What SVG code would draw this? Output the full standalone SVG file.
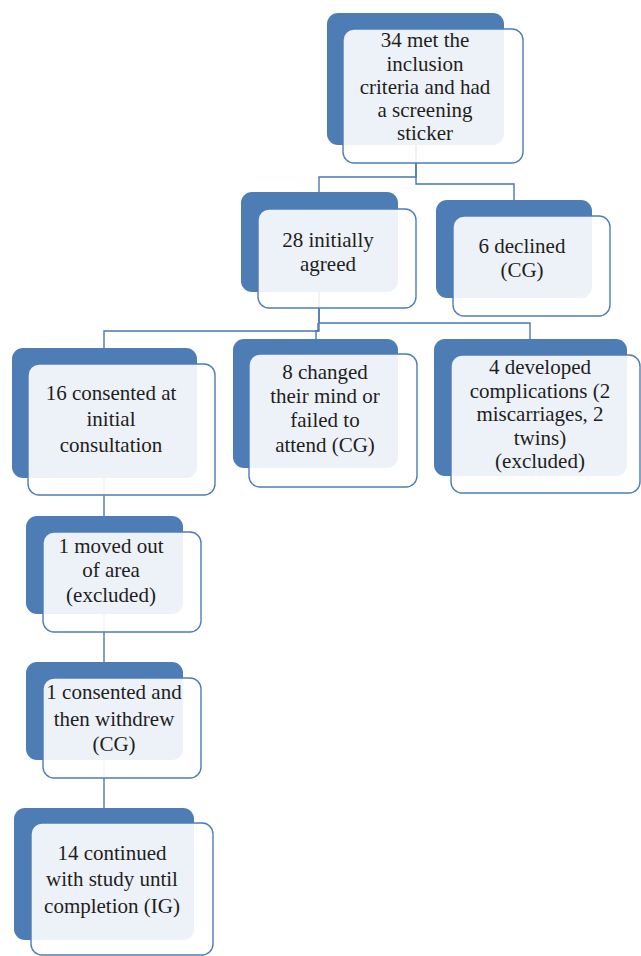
<svg xmlns="http://www.w3.org/2000/svg" width="641" height="956" viewBox="0 0 641 956">
<style>
.bg{fill:#fff}
.back{fill:#4E7DB6}
.front{fill:#fff;fill-opacity:0.9;stroke:#4F7DB5;stroke-width:1.4}
.conn{fill:none;stroke:#4A78B0;stroke-width:1.4}
.t{font-size:21px;fill:#1e1e1e;text-anchor:middle}
</style>
<rect class="bg" x="0" y="0" width="641" height="956"/>
<g id="connectors">
<path class="conn" d="M416,145 V177 H319 V192"/>
<path class="conn" d="M416,145 V184 H514 V200"/>
<path class="conn" d="M319,292 V331 H104 V348"/>
<path class="conn" d="M319,292 V323 H530 V339"/>
<path class="conn" d="M318,323 V331 H316 V339"/>
<path class="conn" d="M104,478 V516"/>
<path class="conn" d="M104,614 V662"/>
<path class="conn" d="M104,760 V808"/>
</g>
<g font-family="'Liberation Serif', 'DejaVu Serif', serif">
<g id="n34">
<rect class="back" x="327" y="13" width="177" height="132" rx="11"/>
<rect class="front" x="343" y="29" width="180" height="134" rx="11"/>
<text class="t" x="425" y="47">34 met the</text>
<text class="t" x="425" y="70.5">inclusion</text>
<text class="t" x="425" y="94">criteria and had</text>
<text class="t" x="425" y="117">a screening</text>
<text class="t" x="425" y="140">sticker</text>
</g>
<g id="n28">
<rect class="back" x="241" y="192" width="157" height="100" rx="11"/>
<rect class="front" x="258" y="209" width="158" height="99" rx="11"/>
<text class="t" x="328" y="247">28 initially</text>
<text class="t" x="328" y="271">agreed</text>
</g>
<g id="n6">
<rect class="back" x="436" y="200" width="156" height="98" rx="11"/>
<rect class="front" x="453" y="216" width="157" height="100" rx="11"/>
<text class="t" x="522" y="253">6 declined</text>
<text class="t" x="522" y="277">(CG)</text>
</g>
<g id="n16">
<rect class="back" x="12" y="348" width="185" height="130" rx="11"/>
<rect class="front" x="28" y="364" width="187" height="131" rx="11"/>
<text class="t" x="111" y="400">16 consented at</text>
<text class="t" x="111" y="426">initial</text>
<text class="t" x="111" y="452">consultation</text>
</g>
<g id="n8">
<rect class="back" x="233" y="339" width="165" height="129" rx="11"/>
<rect class="front" x="249" y="354" width="168" height="133" rx="11"/>
<text class="t" x="325" y="379">8 changed</text>
<text class="t" x="325" y="403">their mind or</text>
<text class="t" x="325" y="427">failed to</text>
<text class="t" x="325" y="452">attend (CG)</text>
</g>
<g id="n4">
<rect class="back" x="434" y="339" width="193" height="137" rx="11"/>
<rect class="front" x="451" y="355" width="189" height="138" rx="11"/>
<text class="t" x="540" y="374">4 developed</text>
<text class="t" x="540" y="398">complications (2</text>
<text class="t" x="540" y="421">miscarriages, 2</text>
<text class="t" x="540" y="445">twins)</text>
<text class="t" x="540" y="468">(excluded)</text>
</g>
<g id="n1moved">
<rect class="back" x="26" y="516" width="157" height="98" rx="11"/>
<rect class="front" x="43" y="532" width="158" height="100" rx="11"/>
<text class="t" x="111" y="553">1 moved out</text>
<text class="t" x="111" y="577">of area</text>
<text class="t" x="111" y="602">(excluded)</text>
</g>
<g id="n1withdrew">
<rect class="back" x="26" y="662" width="157" height="98" rx="11"/>
<rect class="front" x="43" y="678" width="158" height="100" rx="11"/>
<text class="t" x="114" y="699">1 consented and</text>
<text class="t" x="114" y="726">then withdrew</text>
<text class="t" x="114" y="751">(CG)</text>
</g>
<g id="n14">
<rect class="back" x="14" y="808" width="180" height="132" rx="11"/>
<rect class="front" x="31" y="823" width="182" height="132" rx="11"/>
<text class="t" x="112" y="860">14 continued</text>
<text class="t" x="112" y="886">with study until</text>
<text class="t" x="112" y="913">completion (IG)</text>
</g>
</g>
</svg>
